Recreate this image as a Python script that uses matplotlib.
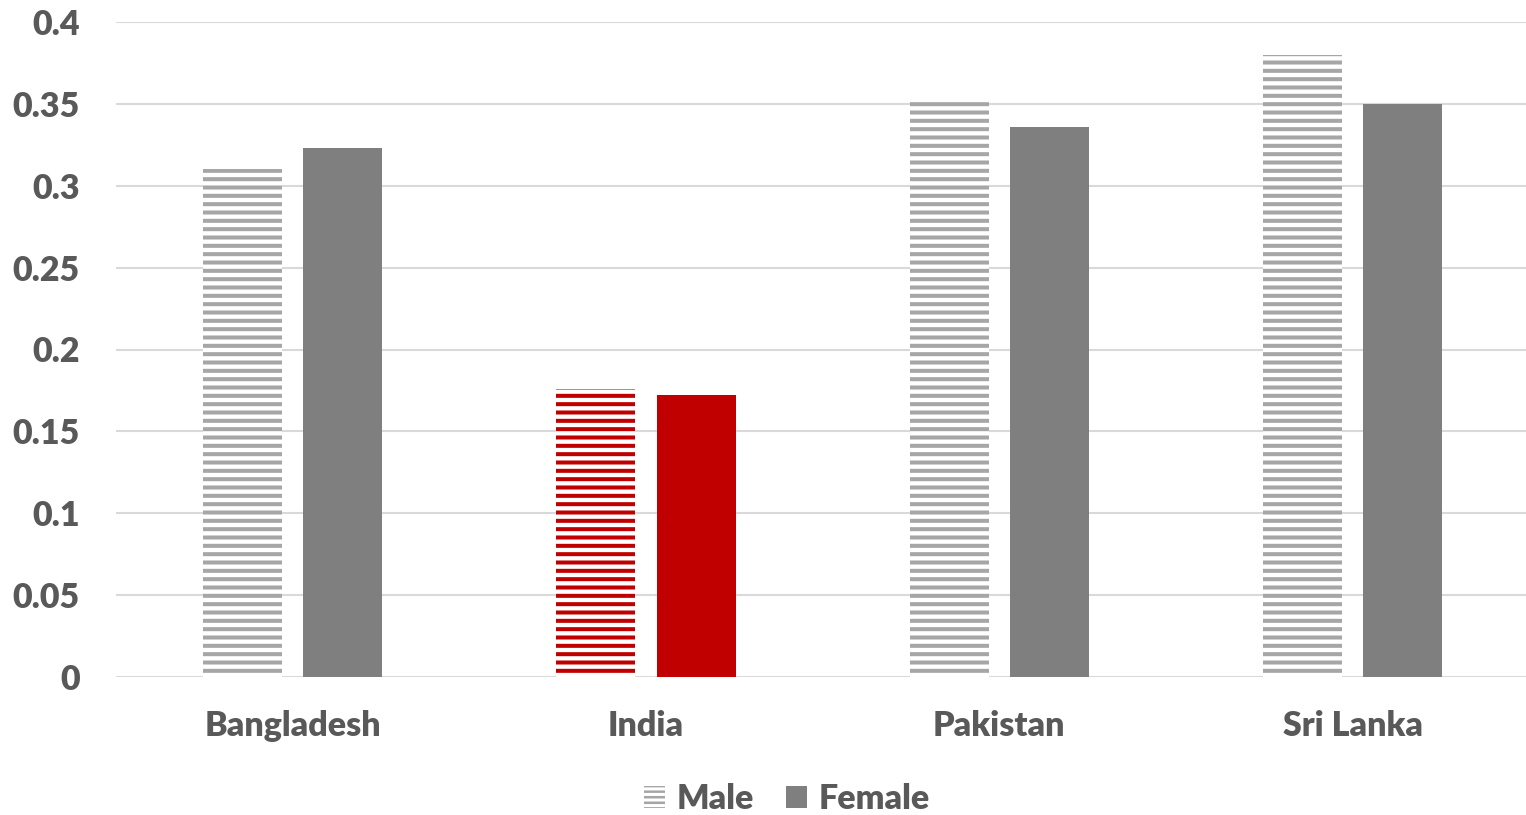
import matplotlib
matplotlib.use("Agg")
import matplotlib.pyplot as plt
import numpy as np
from matplotlib.patches import Patch

categories = ["Bangladesh", "India", "Pakistan", "Sri Lanka"]
male = [0.310, 0.176, 0.353, 0.380]
female = [0.323, 0.172, 0.336, 0.350]
yticks = [0, 0.05, 0.1, 0.15, 0.2, 0.25, 0.3, 0.35, 0.4]
ytick_labels = ["0", "0.05", "0.1", "0.15", "0.2", "0.25", "0.3", "0.35", "0.4"]

male_colors = ["#A6A6A6", "#C00000", "#A6A6A6", "#A6A6A6"]
female_colors = ["#7F7F7F", "#C00000", "#7F7F7F", "#7F7F7F"]

plt.rcParams['font.family'] = ['Lato', 'DejaVu Sans']
plt.rcParams['hatch.linewidth'] = 2.9

fig = plt.figure(figsize=(15.26, 8.15), dpi=100)
ax = fig.add_axes([116/1526, 1-677/815, 1-116/1526, (677-22)/815])

x = np.arange(len(categories))
w = 0.224
off = 0.142
for i in range(len(categories)):
    ax.bar(x[i]-off, male[i], w, facecolor="white", edgecolor=male_colors[i],
           linewidth=0, hatch="--", zorder=3)
    ax.bar(x[i]+off, female[i], w, color=female_colors[i], linewidth=0, zorder=3)

ax.set_xlim(-0.5, 3.491)
ax.set_ylim(0, 0.4)
ax.set_yticks(yticks)
ax.set_yticklabels(ytick_labels)
ax.set_xticks(x)
ax.set_xticklabels(categories)
ax.grid(axis="y", color="#D9D9D9", linewidth=1.5, zorder=0)
ax.set_axisbelow(True)
for s in ax.spines.values():
    s.set_visible(False)
ax.tick_params(axis="both", length=0, labelsize=24.5, labelcolor="#595959")
ax.tick_params(axis="y", pad=26)
ax.tick_params(axis="x", pad=24)
for lbl in ax.get_xticklabels() + ax.get_yticklabels():
    lbl.set_fontweight("heavy")

plt.rcParams['hatch.linewidth'] = 1.8
handles = [Patch(facecolor="white", edgecolor="#A6A6A6", linewidth=0, hatch="---", label="Male"),
           Patch(facecolor="#7F7F7F", linewidth=0, label="Female")]
leg = fig.legend(handles=handles, loc="center", bbox_to_anchor=(787/1526, 1-799/815),
                 ncol=2, frameon=False, handlelength=0.6, handleheight=0.6,
                 handletextpad=0.35, columnspacing=0.95,
                 prop={"size": 24.5, "weight": "heavy"})
for t in leg.get_texts():
    t.set_color("#595959")

fig.savefig("out.png", dpi=100)
